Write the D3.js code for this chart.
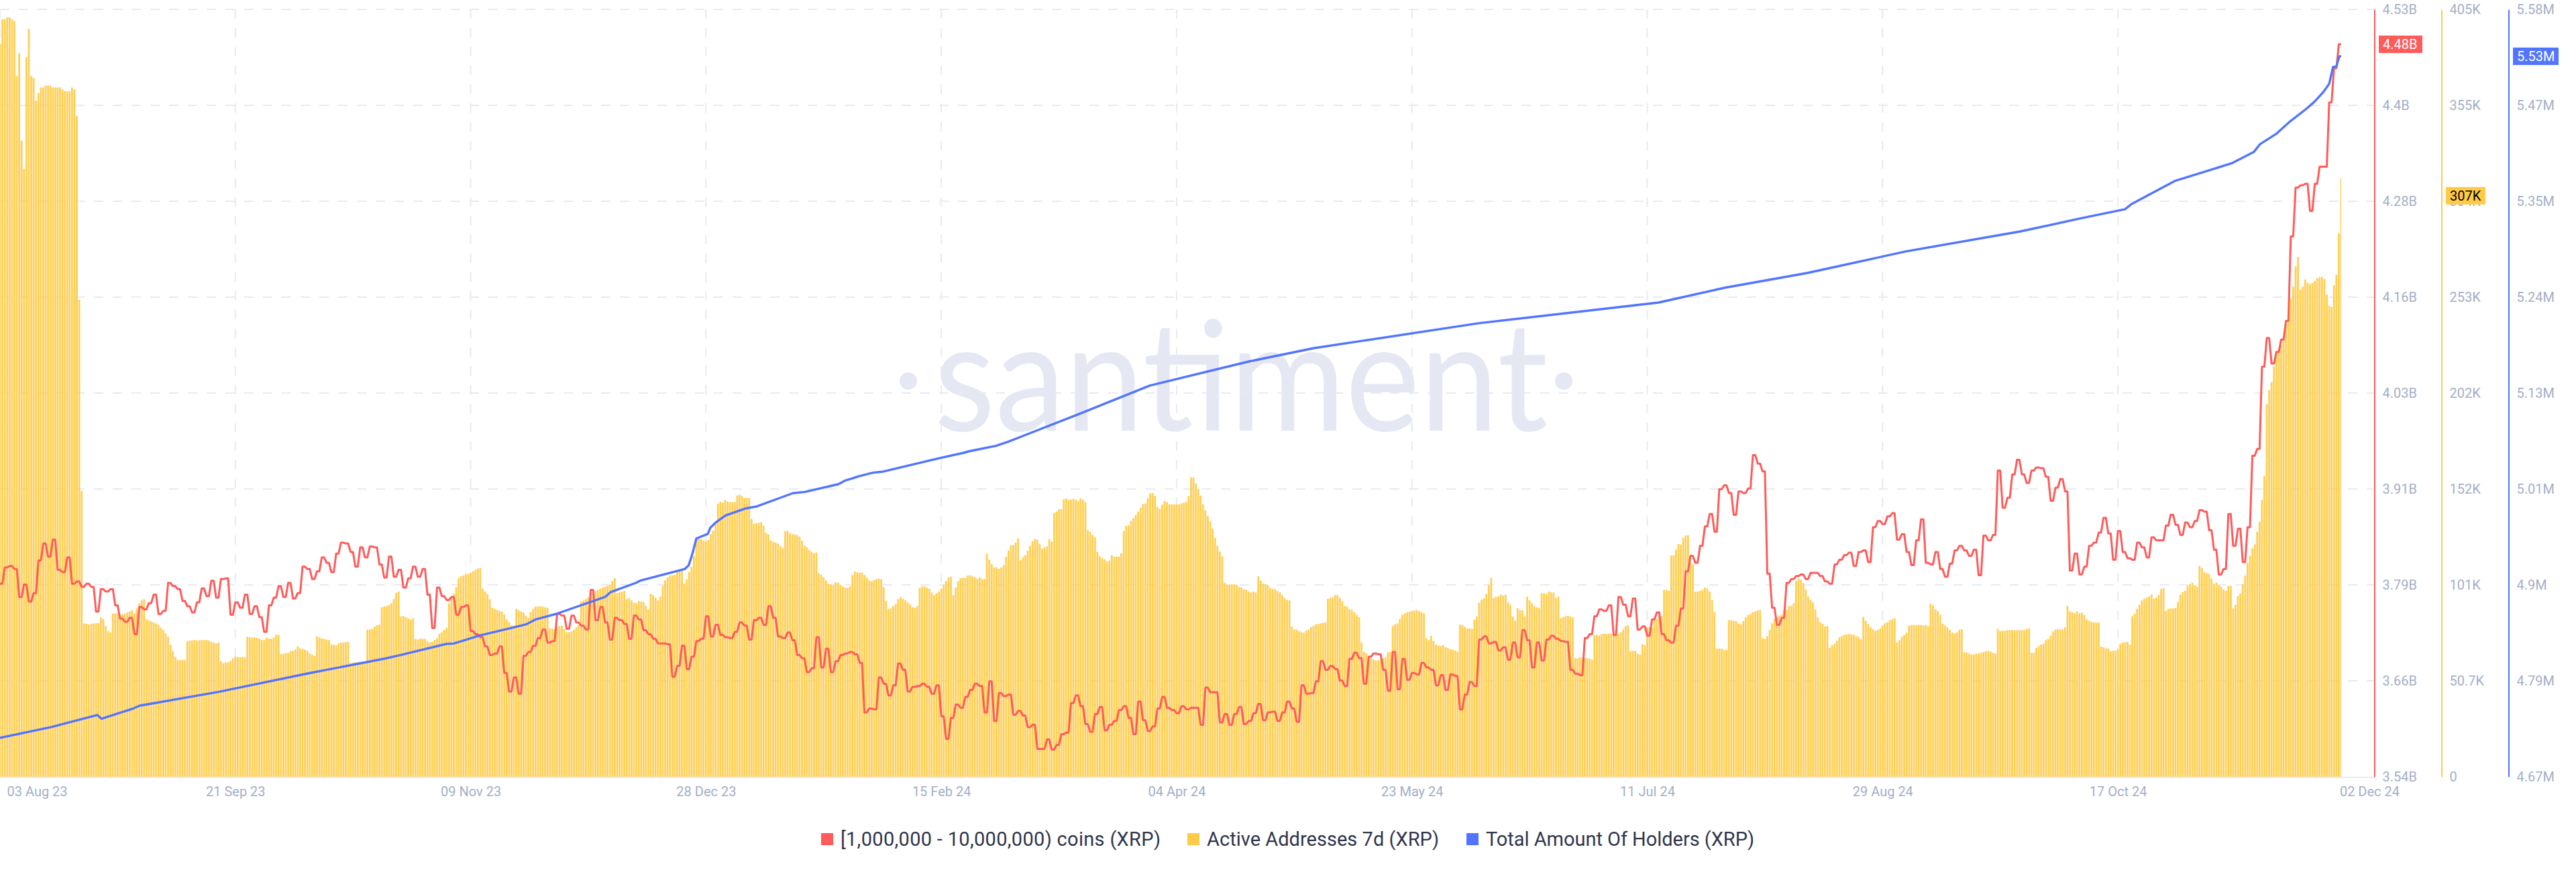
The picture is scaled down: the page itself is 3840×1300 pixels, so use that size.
<!DOCTYPE html>
<html><head><meta charset="utf-8">
<script src="https://cdnjs.cloudflare.com/ajax/libs/d3/7.8.5/d3.min.js"></script>
<style>html,body{margin:0;padding:0;background:#fff;overflow:hidden}svg{display:block}</style>
</head><body><svg id="c" width="3840" height="1300"></svg>
<script>
const startDate = "2023-08-03";
const tickDays = [0,49,98,147,196,245,294,343,392,441,487];
const tickLabels = ["03 Aug 23","21 Sep 23","09 Nov 23","28 Dec 23","15 Feb 24","04 Apr 24","23 May 24","11 Jul 24","29 Aug 24","17 Oct 24","02 Dec 24"];
const legendLabels = ["[1,000,000 - 10,000,000) coins (XRP)","Active Addresses 7d (XRP)","Total Amount Of Holders (XRP)"];
const whaleTicks = [3540,3663.75,3787.5,3911.25,4035,4158.75,4282.5,4406.25,4530];
const whaleTickLabels = ["3.54B","3.66B","3.79B","3.91B","4.03B","4.16B","4.28B","4.4B","4.53B"];
const activeTicks = [0,50.65,101.3,151.95,202.6,253.25,303.9,354.55,405.2];
const activeTickLabels = ["0","50.7K","101K","152K","202K","253K","304K","355K","405K"];
const holderTicks = [4670,4783.75,4897.5,5011.25,5125,5238.75,5352.5,5466.25,5580];
const holderTickLabels = ["4.67M","4.79M","4.9M","5.01M","5.13M","5.24M","5.35M","5.47M","5.58M"];
const whaleLast = "4.48B", activeLast = "307K", holderLast = "5.53M";

// [1,000,000 - 10,000,000) coins, millions of XRP, one value per day
const whaleCoins = [3789,3810,3812,3808,3772,3788,3766,3777,3819,3841,3824,3846,3807,3804,3823,3789,3792,3785,3789,3785,3753,3782,3779,3782,3761,3744,3740,3745,3724,3759,3756,3764,3775,3750,3754,3790,3786,3782,3767,3760,3752,3765,3783,3773,3793,3771,3795,3796,3749,3765,3758,3775,3750,3760,3746,3727,3761,3771,3786,3772,3790,3770,3777,3811,3808,3795,3805,3823,3816,3804,3828,3842,3841,3830,3811,3836,3823,3837,3836,3814,3797,3824,3798,3807,
3784,3796,3811,3798,3808,3775,3732,3784,3773,3768,3772,3749,3759,3761,3728,3724,3720,3708,3697,3699,3708,3674,3650,3668,3647,3696,3701,3709,3719,3730,3713,3715,3750,3748,3731,3748,3739,3735,3730,3781,3742,3759,3739,3717,3745,3742,3737,3718,3748,3743,3729,3724,3718,3712,3712,3711,3669,3683,3709,3679,3695,3715,3718,3747,3721,3736,3723,3720,3719,3727,3739,3735,3717,3742,3745,3736,3760,3745,3721,3719,3726,3716,3697,3693,
3675,3680,3720,3681,3705,3675,3689,3697,3699,3701,3698,3687,3623,3628,3627,3668,3660,3645,3658,3686,3678,3650,3656,3657,3660,3656,3647,3658,3618,3589,3616,3633,3629,3643,3652,3660,3657,3623,3663,3612,3648,3644,3646,3620,3625,3619,3604,3607,3576,3576,3588,3575,3581,3595,3597,3635,3645,3631,3608,3598,3621,3630,3600,3607,3612,3626,3631,3616,3595,3637,3613,3599,3605,3628,3643,3629,3626,3622,3631,3627,3629,3629,3607,3655,
3649,3649,3610,3621,3607,3621,3630,3608,3612,3622,3634,3613,3623,3624,3612,3623,3637,3628,3611,3658,3647,3648,3663,3689,3678,3683,3679,3664,3657,3692,3700,3693,3660,3695,3699,3698,3678,3651,3701,3653,3692,3665,3674,3672,3687,3681,3678,3658,3671,3652,3672,3670,3627,3646,3662,3657,3717,3721,3712,3714,3703,3707,3691,3713,3694,3729,3716,3681,3713,3690,3717,3722,3718,3715,3714,3678,3673,3671,3719,3724,3747,3756,3754,
3761,3723,3772,3762,3747,3770,3730,3734,3722,3743,3752,3724,3716,3713,3735,3757,3805,3825,3816,3838,3863,3879,3856,3911,3916,3906,3878,3908,3906,3912,3955,3944,3934,3802,3758,3736,3745,3790,3795,3799,3801,3795,3803,3803,3799,3792,3789,3814,3820,3826,3829,3812,3830,3832,3817,3862,3870,3866,3876,3880,3846,3853,3830,3813,3845,3872,3816,3814,3830,3808,3798,3815,3832,3838,3832,3825,3833,3800,3851,3845,3852,3935,3887,3900,
3930,3949,3930,3919,3935,3939,3938,3927,3896,3913,3924,3908,3806,3828,3801,3811,3838,3842,3855,3874,3854,3820,3857,3830,3822,3820,3842,3836,3823,3849,3845,3845,3864,3878,3865,3852,3868,3862,3870,3884,3882,3858,3833,3801,3808,3879,3838,3860,3817,3862,3954,3963,
4069,4106,4073,4088,4104,4128,4237,4300,4303,4305,4270,4305,4327,4327,4410,4454,4485];

// Active Addresses 7d, thousands, one value every 12 hours
const activeAddresses = [387,400,400,401,401,400,399,370,382,336,321,380,395,370,369,357,361,364,364,365,365,365,364,364,364,364,363,362,362,362,364,363,349,252,151,
81.0,80.8,80.3,80.7,80.9,81.1,81.1,84.1,83.4,79.6,76.9,76.2,86.1,86.3,86.3,85.7,85.7,86.1,86.7,87.2,87.9,86.0,88.9,91.6,93.1,93.8,83.1,82.6,82.0,81.5,80.9,80.2,78.7,77.5,75.7,73.9,69.7,66.3,63.3,61.8,61.5,61.8,61.7,71.6,71.9,72.0,72.2,71.9,72.0,72.2,72.2,72.2,71.8,71.3,70.8,70.5,70.8,61.0,60.0,60.3,60.5,61.2,62.6,63.4,63.3,63.2,63.2,63.2,73.9,73.6,73.5,73.5,73.4,73.0,72.3,72.1,73.4,73.0,72.8,73.5,75.0,75.0,64.7,65.0,65.3,65.4,66.4,66.5,67.2,68.9,67.8,67.4,67.1,66.6,65.1,64.5,63.8,74.2,73.6,73.1,72.8,72.4,72.2,69.8,69.7,69.3,70.4,70.8,71.0,71.1,71.1,60.1,60.4,60.5,60.6,60.7,60.7,60.8,77.7,77.8,78.1,79.3,80.1,80.3,89.5,89.9,90.1,90.7,91.6,93.8,97.2,97.8,84.6,
84.9,84.3,83.6,83.1,83.6,72.8,72.5,72.9,72.8,72.8,71.6,71.0,71.2,72.2,73.1,75.5,76.3,77.5,78.7,91.4,95.2,96.7,100.1,104.9,105.9,106.3,107.2,107.1,107.7,108.5,109.3,110.0,110.3,99.3,97.9,96.4,93.8,89.3,88.7,88.1,87.6,87.2,85.7,83.1,81.6,80.1,79.8,88.6,87.9,87.3,86.7,85.1,84.0,86.9,88.7,89.8,89.9,90.0,89.9,89.5,89.2,78.4,78.1,78.1,79.3,79.6,79.8,78.1,76.4,76.4,76.8,77.7,78.9,80.1,92.6,93.1,93.8,94.8,97.1,97.9,98.1,98.7,99.3,99.9,100.4,100.8,101.4,103.4,104.9,97.0,97.4,97.8,98.1,93.8,94.4,93.2,91.9,91.6,92.8,92.5,92.3,90.2,88.3,96.6,95.9,94.5,93.1,95.2,100.8,103.7,105.3,106.3,106.4,106.7,108.2,108.9,109.1,102.0,104.3,108.2,110.8,116.4,126.4,126.1,125.6,124.9,124.4,125.0,128.2,130.0,133.9,144.2,145.2,144.7,146.2,145.3,145.0,145.0,145.1,148.5,148.9,148.2,147.2,147.2,147.2,136.1,133.6,133.9,134.1,134.4,132.6,128.8,127.9,124.7,124.1,123.7,123.1,121.7,120.8,129.6,129.9,128.5,128.1,128.0,127.6,126.8,124.7,
122.1,121.1,119.7,118.8,118.0,118.4,107.5,106.6,105.4,103.7,101.9,101.6,101.0,102.7,102.5,101.4,100.5,99.9,99.7,100.5,106.5,108.4,107.9,107.6,107.8,106.5,105.2,103.7,103.2,103.9,104.4,104.6,104.3,100.1,92.8,88.5,88.9,90.1,91.1,93.8,94.8,94.0,93.1,92.0,91.1,89.5,89.3,90.1,99.7,100.5,100.5,99.9,99.2,97.3,95.9,96.9,97.8,99.3,101.1,103.3,105.2,105.6,96.0,99.9,103.2,104.9,105.0,105.1,106.2,106.4,105.8,105.4,104.6,105.3,104.4,104.4,117.8,114.6,112.3,110.5,110.5,109.8,110.5,111.7,116.1,119.5,122.3,122.3,123.7,125.9,114.3,115.8,117.0,119.4,122.0,124.4,125.6,125.2,122.8,120.4,121.1,121.6,125.5,124.2,139.3,140.0,141.3,141.3,146.5,146.9,146.2,146.4,146.7,146.4,145.7,147.0,146.2,145.0,130.2,129.2,127.7,126.6,118.8,116.4,115.5,114.8,113.6,114.1,117.0,116.2,116.2,116.3,118.0,129.8,132.5,132.6,135.1,136.5,138.2,140.0,142.0,144.0,144.3,147.1,149.6,149.7,148.3,142.6,141.4,143.6,145.6,145.0,143.8,143.8,143.8,143.8,143.8,144.4,144.7,145.1,148.3,158.1,158.0,154.9,152.1,148.5,143.8,140.7,137.7,
134.8,131.0,126.1,122.0,118.9,116.4,102.5,101.3,101.4,101.6,101.7,101.4,100.2,99.9,99.0,98.7,97.9,97.3,97.8,97.3,105.8,103.7,102.0,101.6,101.1,99.7,99.2,99.0,98.1,97.3,95.9,94.4,93.3,93.1,79.4,77.8,77.7,76.9,76.3,76.1,77.2,77.7,79.0,79.6,80.4,80.7,81.0,81.3,81.5,94.0,94.4,94.7,95.9,95.9,94.5,92.8,90.2,89.9,88.4,88.1,86.7,85.5,84.3,71.0,66.0,65.2,63.6,62.7,61.9,61.4,61.4,61.6,62.7,63.0,65.7,65.9,79.6,80.5,81.0,83.4,85.5,86.3,86.9,87.2,87.6,87.7,88.1,87.5,86.9,86.3,73.1,72.1,74.4,71.7,69.8,69.2,69.0,69.5,68.5,68.0,67.3,67.1,66.7,66.0,80.3,80.1,79.1,78.2,78.4,78.1,82.9,84.6,91.9,93.6,94.2,96.6,101.1,105.0,94.4,95.0,95.2,96.2,95.6,96.1,92.2,90.8,84.6,82.4,89.0,87.9,87.9,84.7,95.1,93.2,91.6,90.0,89.5,89.0,96.8,96.8,96.7,97.8,97.4,97.2,94.4,95.1,83.7,84.3,84.8,85.0,84.6,84.1,62.6,62.6,63.1,62.9,62.7,62.6,62.4,61.8,74.9,74.9,74.6,75.4,75.6,75.5,75.6,75.6,
75.4,75.4,75.4,76.3,77.7,79.6,80.1,66.4,66.5,66.5,65.1,64.5,69.9,69.5,79.1,78.9,78.7,84.2,83.4,84.8,85.0,98.7,98.7,98.2,116.9,116.9,120.0,122.9,122.6,126.1,127.4,127.5,113.1,112.3,97.8,97.8,98.1,98.7,99.9,99.3,97.8,93.4,86.9,67.5,67.7,67.6,66.9,67.1,82.6,82.7,82.3,82.2,81.0,80.4,82.2,84.2,85.5,86.0,86.9,87.3,87.9,88.0,73.2,72.8,74.3,77.5,81.0,83.4,84.0,85.1,85.7,88.1,88.1,90.1,90.2,91.6,103.4,104.6,104.0,102.3,98.9,95.2,93.4,92.2,88.3,84.1,81.6,80.8,79.4,79.6,68.0,69.5,70.2,71.8,73.6,74.2,74.9,75.2,75.4,75.2,75.0,74.3,73.8,72.6,84.4,82.4,80.8,79.1,77.9,77.1,77.5,78.4,79.8,81.0,81.5,82.7,83.0,83.7,70.9,72.1,73.9,74.9,76.1,79.8,80.1,80.2,80.0,80.2,80.1,79.8,80.2,79.5,91.4,90.5,88.3,87.5,85.5,80.8,79.8,78.9,77.5,76.1,75.7,76.2,77.7,77.8,65.7,65.7,65.1,64.5,64.6,65.0,65.2,65.4,65.9,66.3,66.4,66.0,65.4,65.1,78.1,76.9,77.0,77.1,77.4,77.5,77.4,77.4,
77.4,77.4,77.4,77.5,78.1,78.4,65.4,65.4,68.0,69.0,69.8,70.3,72.2,72.8,74.6,76.8,77.7,77.9,77.9,77.7,78.9,90.1,87.3,86.9,86.4,87.4,86.3,86.6,85.4,83.0,82.4,81.8,81.5,81.4,81.5,68.7,68.4,67.8,67.7,66.3,66.6,66.6,67.4,70.2,70.8,71.1,71.3,69.7,84.8,86.2,88.7,90.8,93.1,94.0,94.6,95.2,96.2,94.0,94.6,96.0,99.1,99.7,87.6,88.6,88.9,88.9,89.2,92.3,96.1,97.5,98.2,100.8,101.7,102.4,101.1,100.4,111.3,110.3,107.9,107.5,107.2,104.6,101.9,102.5,101.1,100.4,98.9,98.1,100.8,100.8,88.9,90.8,95.4,96.8,101.6,106.4,112.9,116.7,120.6,122.7,129.4,134.7,146.2,158.9,
196.7,204.2,208.4,216.6,223.6,225.8,227.8,230.8,239.0,243.9,252.6,258.8,269.5,274.5,257.1,258.8,262.6,260.8,260.1,260.8,261.8,263.3,263.8,264.0,262.8,254.6,248.6,248.1,259.6,265.0,287.0,316.0,306.8];

// Total Amount Of Holders, thousands: dayOffset and value pairs
const holderDays = [0,10.7,20.3,21.1,27.8,29.1,45.4,64.1,80.2,83.8,92.9,94.5,99.9,109.5,111.6,115.9,126,127.1,132.4,133.3,142.6,143.4,144.1,145,147.4,147.9,149,150.1,151.1,155.4,157.6,162.9,165.1,167.6,174.6,175.9,178.9,181.8,183.7,195.4,200.7,201.8,207.4,209.8,224.8,239.4,260,273.6,307.9,345.4,359.1,376.3,396.8,420.7,433,442.5,443.9,452.8,464.7,469.3,470.6,473.9,476.7,480.1,481.9,483.7,485,485.8,486.5,487.1,487.5];
const holderValues = [4716.1,4728.9,4743.2,4738.7,4751.1,4754.3,4770.5,4792.5,4810.2,4814.8,4827.5,4828,4837.6,4850.6,4856.7,4863.3,4883.2,4888.8,4899.9,4902.5,4916.4,4920.8,4932.8,4952.6,4958,4965.4,4971.3,4976,4980,4988.4,4990.6,5001.7,5006.3,5007.8,5017,5021,5026.4,5030.6,5031.7,5047.6,5054.2,5056,5062.4,5067,5100.4,5133.8,5162.4,5178.3,5207.8,5232.4,5249.9,5267.4,5292.9,5316.7,5331.9,5343,5349.4,5376.4,5397.5,5410.9,5420.2,5432.1,5446.4,5461.5,5470.3,5481.4,5491.8,5511.6,5512.4,5524.4,5524.4];

const RED="#ff5b5b", YEL="#ffcb47", BLU="#5275ff", GRID="#e7eaf3", MUTED="#a4aec8";
const FONT="Roboto, 'Open Sans', sans-serif";
const plotTop=14, plotBottom=1158, plotRight=3540, dataRight=3490;
const DAY=86400000, t0=Date.parse(startDate+"T00:00:00Z");
const dayDate = d => new Date(t0 + d*DAY);

const x = d3.scaleUtc().domain([dayDate(0),dayDate(487.5)]).range([0,dataRight]);
const yWhale = d3.scaleLinear().domain([3540,4530]).range([plotBottom,plotTop]);
const yActive = d3.scaleLinear().domain([0,405.2]).range([plotBottom,plotTop]);
const yHolder = d3.scaleLinear().domain([4670,5580]).range([plotBottom,plotTop]);

const svg = d3.select("#c");
svg.append("rect").attr("width",3840).attr("height",1300).attr("fill","#fff");
svg.append("defs").append("clipPath").attr("id","plot").append("rect").attr("x",0).attr("y",0).attr("width",dataRight).attr("height",plotBottom+1);

// watermark
const wm = svg.append("g").attr("fill","#e5e8f3");
wm.append("text").attr("x",1850).attr("y",642).attr("text-anchor","middle")
  .attr("font-family","Lato, sans-serif").attr("font-weight",400).attr("font-size",228)
  .attr("textLength",915).attr("lengthAdjust","spacingAndGlyphs").text("santiment");
wm.selectAll("circle").data([1354,2331]).join("circle").attr("cx",d=>d).attr("cy",568).attr("r",13);

// grid
const grid = svg.append("g").attr("stroke",GRID).attr("stroke-width",2).attr("stroke-dasharray","14 14");
grid.selectAll("line.h").data(whaleTicks.slice(1)).join("line").attr("class","h")
  .attr("x1",0).attr("x2",plotRight).attr("y1",d=>yWhale(d)).attr("y2",d=>yWhale(d));
grid.selectAll("line.v").data(tickDays.slice(0,-1)).join("line").attr("class","v")
  .attr("x1",d=>x(dayDate(d))).attr("x2",d=>x(dayDate(d))).attr("y1",plotTop).attr("y2",plotBottom);
svg.append("line").attr("x1",0).attr("x2",plotRight).attr("y1",plotBottom+1).attr("y2",plotBottom+1).attr("stroke",GRID).attr("stroke-width",2);

// bars
svg.append("g").attr("clip-path","url(#plot)").selectAll("rect").data(activeAddresses).join("rect")
  .attr("x",(d,i)=>x(dayDate(i/2))-1.4).attr("width",2.8)
  .attr("y",d=>yActive(d)).attr("height",d=>plotBottom-yActive(d))
  .attr("fill",YEL).attr("fill-opacity",0.92);

// lines
const whalePoints = whaleCoins.flatMap((v,d)=>[[d,v],[d+0.5,v]]);
svg.append("path").attr("fill","none").attr("stroke",RED).attr("stroke-width",3).attr("stroke-linejoin","round")
  .attr("d",d3.line().x(p=>x(dayDate(p[0]))).y(p=>yWhale(p[1]))(whalePoints));
svg.append("path").attr("fill","none").attr("stroke",BLU).attr("stroke-width",3.4).attr("stroke-linejoin","round")
  .attr("d",d3.line().x((d,i)=>x(dayDate(d))).y((d,i)=>yHolder(holderValues[i]))(holderDays));

// x axis
const xAxis = svg.append("g").attr("transform",`translate(0,${plotBottom})`)
  .call(d3.axisBottom(x).tickValues(tickDays.map(dayDate)).tickFormat((d,i)=>tickLabels[i]).tickSize(0));
xAxis.select(".domain").remove();
xAxis.selectAll("text").attr("font-family",FONT).attr("font-size",20).attr("fill",MUTED).attr("y",22).attr("dy","0.35em")
  .each(function(d,i){
    if(i===0) d3.select(this).attr("text-anchor","start").attr("x",10);
    if(i===tickDays.length-1) d3.select(this).attr("text-anchor","start").attr("x",1);
  });

// y axes
function yAxis(scale,ticks,labels,xpos,color){
  const g = svg.append("g").attr("transform",`translate(${xpos-0.5},0)`)
    .call(d3.axisRight(scale).tickValues(ticks).tickFormat((d,i)=>labels[i]).tickSize(0).tickPadding(12));
  g.select(".domain").attr("stroke",color).attr("stroke-width",2);
  g.selectAll("text").attr("font-family",FONT).attr("font-size",20).attr("fill",MUTED);
}
yAxis(yWhale,whaleTicks,whaleTickLabels,plotRight,RED);
yAxis(yActive,activeTicks,activeTickLabels,3640,YEL);
yAxis(yHolder,holderTicks,holderTickLabels,3740,BLU);

// value tags
const tags = [
 {x:3546,w:65,y:yWhale(whaleCoins[whaleCoins.length-1]),fill:RED,txt:whaleLast,col:"#fff"},
 {x:3646,w:59,y:yActive(activeAddresses[activeAddresses.length-1]),fill:YEL,txt:activeLast,col:"#000"},
 {x:3746,w:68,y:yHolder(holderValues[holderValues.length-1]),fill:BLU,txt:holderLast,col:"#fff"}];
const tg = svg.append("g").selectAll("g").data(tags).join("g");
tg.append("rect").attr("x",d=>d.x).attr("y",d=>d.y-13).attr("width",d=>d.w).attr("height",26).attr("fill",d=>d.fill);
tg.append("text").attr("x",d=>d.x+6).attr("y",d=>d.y).attr("dy","0.35em").attr("font-family",FONT).attr("font-size",20).attr("fill",d=>d.col).text(d=>d.txt);

// legend
const legendX = [1224,1770,2186], legendColors=[RED,YEL,BLU], legendWidths=[477,346,400];
const lg = svg.append("g").selectAll("g").data(legendLabels).join("g");
lg.append("rect").attr("x",(d,i)=>legendX[i]).attr("y",1242).attr("width",18).attr("height",18).attr("fill",(d,i)=>legendColors[i]);
lg.append("text").attr("x",(d,i)=>legendX[i]+29).attr("y",1251).attr("dy","0.35em").attr("font-family",FONT).attr("font-size",29).attr("fill","#2f354d")
  .attr("textLength",(d,i)=>legendWidths[i]).attr("lengthAdjust","spacing").text(d=>d);
</script></body></html>
